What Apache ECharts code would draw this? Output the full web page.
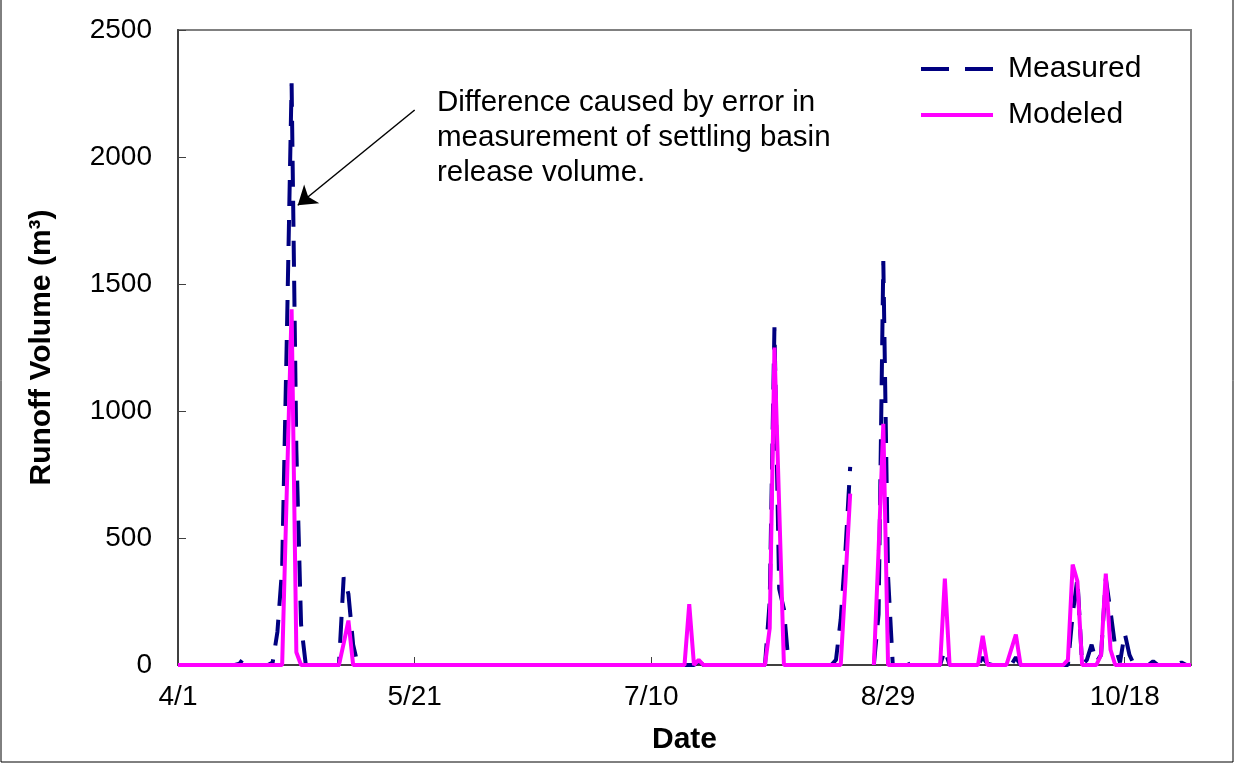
<!DOCTYPE html>
<html>
<head>
<meta charset="utf-8">
<title>Runoff Volume</title>
<script src="https://cdn.jsdelivr.net/npm/echarts@6/dist/echarts.min.js"></script>
<style>
  html, body { margin: 0; padding: 0; background: #fff; }
  #chart { width: 1235px; height: 765px; }
</style>
</head>
<body>
<div id="chart"></div>
<script>
// day 0 = 4/1, one value per day up to 11/1 (day 214)
const tickLabels = ['4/1', '5/21', '7/10', '8/29', '10/18']

// measured runoff (m3); null = no record
const measured = [
  0, 0, 0, 0, 0, 0, 0, 0, 0, 0,
  0, 0, 0, 5, 30, 0, 0, 0, 0, 0,
  10, 130, 380, 1300, 2290, 850, 160, 0, 0, 0,
  0, 0, 0, 0, 0, 345, 280, 80, 0, 0,
  0, 0, 0, 0, 0, 0, 0, 0, 0, 0,
  0, 0, 0, 0, 0, 0, 0, 0, 0, 0,
  0, 0, 0, 0, 0, 0, 0, 0, 0, 0,
  0, 0, 0, 0, 0, 0, 0, 0, 0, 0,
  0, 0, 0, 0, 0, 0, 0, 0, 0, 0,
  0, 0, 0, 0, 0, 0, 0, 0, 0, 0,
  0, 0, 0, 0, 0, 0, 0, 0, 0, 0,
  15, 0, 0, 0, 0, 0, 0, 0, 0, 0,
  0, 0, 0, 0, 0, 250, 1330, 300, 220, 0,
  0, 0, 0, 0, 0, 0, 0, 0, 0, 20,
  180, 450, 780, null, null, null, null, 0, 200, 1590,
  350, 0, 0, 0, 0, 8, 0, 0, 0, 0,
  0, 0, 60, 0, 0, 0, 0, 0, 0, 0,
  30, 5, 0, 0, 0, 0, 0, 30, 0, 0,
  0, 0, 0, 0, 0, 0, 0, 0, 0, 200,
  340, 0, 20, 80, 10, 40, 340, 210, 70, 10,
  125, 40, 0, 0, 0, 0, 15, 0, 0, 0,
  0, 0, 10, 0, 0
]

// modeled runoff (m3)
const modeled = [
  0, 0, 0, 0, 0, 0, 0, 0, 0, 0,
  0, 0, 0, 0, 0, 0, 0, 0, 0, 0,
  0, 0, 0, 700, 1400, 50, 0, 0, 0, 0,
  0, 0, 0, 0, 0, 85, 175, 0, 0, 0,
  0, 0, 0, 0, 0, 0, 0, 0, 0, 0,
  0, 0, 0, 0, 0, 0, 0, 0, 0, 0,
  0, 0, 0, 0, 0, 0, 0, 0, 0, 0,
  0, 0, 0, 0, 0, 0, 0, 0, 0, 0,
  0, 0, 0, 0, 0, 0, 0, 0, 0, 0,
  0, 0, 0, 0, 0, 0, 0, 0, 0, 0,
  0, 0, 0, 0, 0, 0, 0, 0, 240, 0,
  20, 0, 0, 0, 0, 0, 0, 0, 0, 0,
  0, 0, 0, 0, 0, 145, 1250, 625, 0, 0,
  0, 0, 0, 0, 0, 0, 0, 0, 0, 0,
  0, 330, 675, null, null, null, null, 0, 450, 950,
  0, 0, 0, 0, 0, 0, 0, 0, 0, 0,
  0, 0, 340, 0, 0, 0, 0, 0, 0, 0,
  115, 0, 0, 0, 0, 0, 60, 120, 0, 0,
  0, 0, 0, 0, 0, 0, 0, 0, 20, 395,
  330, 0, 0, 0, 0, 40, 360, 60, 0, 0,
  0, 0, 0, 0, 0, 0, 0, 0, 0, 0,
  0, 0, 0, 0, 0
]

// arrow of the note, in [day, m3]
const arrowFrom = [50, 2185]
const arrowTo = [25.3, 1810]

const font = 'Liberation Sans, Arial, sans-serif'
const toPairs = (arr) => arr.map((v, i) => [i, v])

const chart = echarts.init(document.getElementById('chart'))

const option = {
  animation: false,
  backgroundColor: '#fff',
  textStyle: { fontFamily: font, color: '#000' },
  grid: {
    left: 178,
    right: 44,
    top: 30,
    bottom: 100,
    show: true,
    borderColor: '#808080',
    borderWidth: 2,
  },
  legend: {
    orient: 'vertical',
    left: 921,
    top: 54,
    padding: 0,
    itemWidth: 72,
    itemHeight: 4,
    itemGap: 16,
    itemStyle: { borderWidth: 0 },
    textStyle: { fontSize: 30, fontFamily: font, color: '#000', padding: [0, 0, 0, 10] },
    data: [
      { name: 'Measured', icon: 'path://M0,0H28V4H0Z M44,0H72V4H44Z' },
      { name: 'Modeled', icon: 'rect' },
    ],
  },
  xAxis: {
    type: 'value',
    min: 0,
    max: 214,
    interval: 50,
    name: 'Date',
    nameLocation: 'middle',
    nameGap: 60,
    nameTextStyle: { fontSize: 30, fontWeight: 'bold', fontFamily: font, color: '#000' },
    axisLine: { show: true, lineStyle: { color: '#404040', width: 2 } },
    axisTick: { inside: true, length: 8, lineStyle: { color: '#404040' } },
    axisLabel: {
      fontSize: 28,
      fontFamily: font,
      color: '#000',
      margin: 18,
      showMaxLabel: false,
      formatter: (v) => (v % 50 === 0 ? tickLabels[v / 50] : ''),
    },
    splitLine: { show: false },
  },
  yAxis: {
    type: 'value',
    min: 0,
    max: 2500,
    interval: 500,
    name: 'Runoff Volume (m³)',
    nameLocation: 'middle',
    nameGap: 121,
    nameTextStyle: { fontSize: 30, fontWeight: 'bold', fontFamily: font, color: '#000' },
    axisLine: { show: true, lineStyle: { color: '#404040', width: 2 } },
    axisTick: { inside: true, length: 8, lineStyle: { color: '#404040' } },
    axisLabel: {
      fontSize: 28,
      fontFamily: font,
      color: '#000',
      margin: 26,
      formatter: (v) => String(v),
    },
    splitLine: { show: false },
  },
  series: [
    {
      name: 'Measured',
      type: 'line',
      data: toPairs(measured),
      symbol: 'none',
      connectNulls: false,
      lineStyle: { color: '#000080', width: 4, type: [26, 14] },
      itemStyle: { color: '#000080' },
      markLine: {
        silent: true,
        symbol: ['none', 'arrow'],
        symbolSize: 18,
        label: { show: false },
        lineStyle: { color: '#000', width: 1.5, type: 'solid' },
        data: [[
          { coord: arrowFrom, symbol: 'none' },
          { coord: arrowTo, symbol: 'arrow', symbolSize: 18 },
        ]],
      },
    },
    {
      name: 'Modeled',
      type: 'line',
      data: toPairs(modeled),
      symbol: 'none',
      connectNulls: false,
      lineStyle: { color: '#ff00ff', width: 4 },
      itemStyle: { color: '#ff00ff' },
    },
  ],
  graphic: [
    {
      type: 'text',
      left: 437,
      top: 85,
      style: {
        text: 'Difference caused by error in\nmeasurement of settling basin\nrelease volume.',
        font: '29.5px ' + font,
        lineHeight: 35,
        fill: '#000',
      },
    },
    {
      type: 'rect',
      shape: { x: 1, y: -2, width: 1232, height: 764 },
      style: { fill: 'none', stroke: '#000', lineWidth: 1 },
      silent: true,
    },
  ],
}

chart.setOption(option)
</script>
</body>
</html>
